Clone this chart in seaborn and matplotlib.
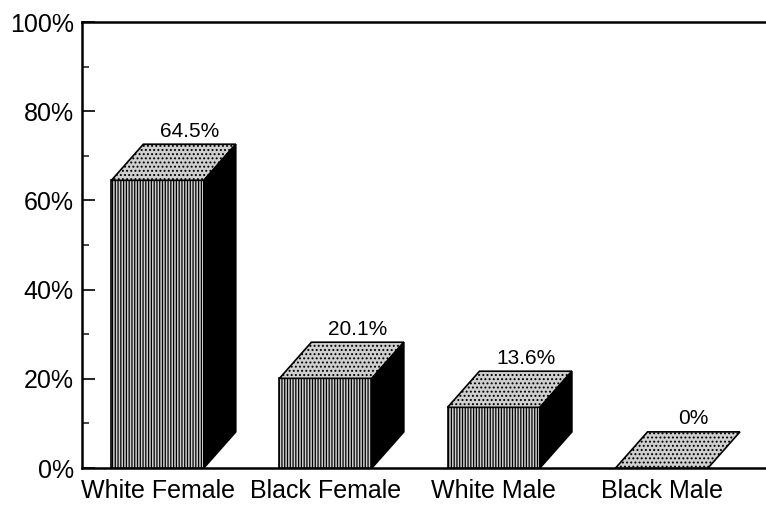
import matplotlib
matplotlib.use("Agg")
import matplotlib.pyplot as plt
import seaborn as sns
import pandas as pd
import numpy as np

categories = ["White Female", "Black Female", "White Male", "Black Male"]
values = [64.5, 20.1, 13.6, 0.0]
value_labels = ["64.5%", "20.1%", "13.6%", "0%"]
yticks = [0, 20, 40, 60, 80, 100]
ytick_labels = ["0%", "20%", "40%", "60%", "80%", "100%"]

sns.set_theme(style="white")
plt.rcParams["font.family"] = ["Liberation Sans", "DejaVu Sans"]
plt.rcParams["hatch.linewidth"] = 0.9

df = pd.DataFrame({"group": categories, "pct": values})

fig = plt.figure(figsize=(7.66, 5.09), dpi=100)
ax = fig.add_axes([82 / 766, 41 / 509, 1 - 82 / 766, (468 - 22) / 509])

sns.barplot(data=df, x="group", y="pct", order=categories, width=0.55,
            color="#d0d0d0", edgecolor="black", linewidth=1.2,
            saturation=1, ax=ax, zorder=3)

DX = 0.19   # depth offset in category units
DY = 8.1    # depth offset in percent units

for p, lab in zip(list(ax.patches), value_labels):
    p.set_hatch("||||||")
    x0 = p.get_x()
    w = p.get_width()
    h = p.get_height()
    x1 = x0 + w
    # top face
    ax.fill([x0, x1, x1 + DX, x0 + DX], [h, h, h + DY, h + DY],
            facecolor="#cfcfcf", edgecolor="black", linewidth=1.2,
            hatch="....", zorder=4)
    # side face
    if h > 0:
        ax.fill([x1, x1 + DX, x1 + DX, x1], [0, DY, h + DY, h],
                facecolor="black", edgecolor="black", linewidth=1.2,
                zorder=4)
    ax.text(x0 + w / 2 + DX, h + DY + 0.8, lab, ha="center", va="bottom",
            fontsize=15, color="black", zorder=5)

ax.set_xlim(-0.45, 3.62)
ax.set_ylim(0, 100)
ax.set_yticks(yticks)
ax.set_yticklabels(ytick_labels, fontsize=18)
ax.set_yticks([10, 30, 50, 70, 90], minor=True)
ax.tick_params(axis="y", which="major", direction="in", length=9, width=1.2,
               left=True, pad=6, colors="black")
ax.tick_params(axis="y", which="minor", direction="in", length=5, width=1.2,
               left=True)
ax.tick_params(axis="x", length=0, pad=8, labelsize=18, colors="black")
ax.set_xlabel("")
ax.set_ylabel("")

for s in ["left", "top", "bottom"]:
    ax.spines[s].set_visible(True)
    ax.spines[s].set_color("black")
    ax.spines[s].set_linewidth(1.8)
ax.spines["right"].set_visible(False)
ax.set_facecolor("white")
fig.patch.set_facecolor("white")

fig.savefig("out.png", dpi=100)
